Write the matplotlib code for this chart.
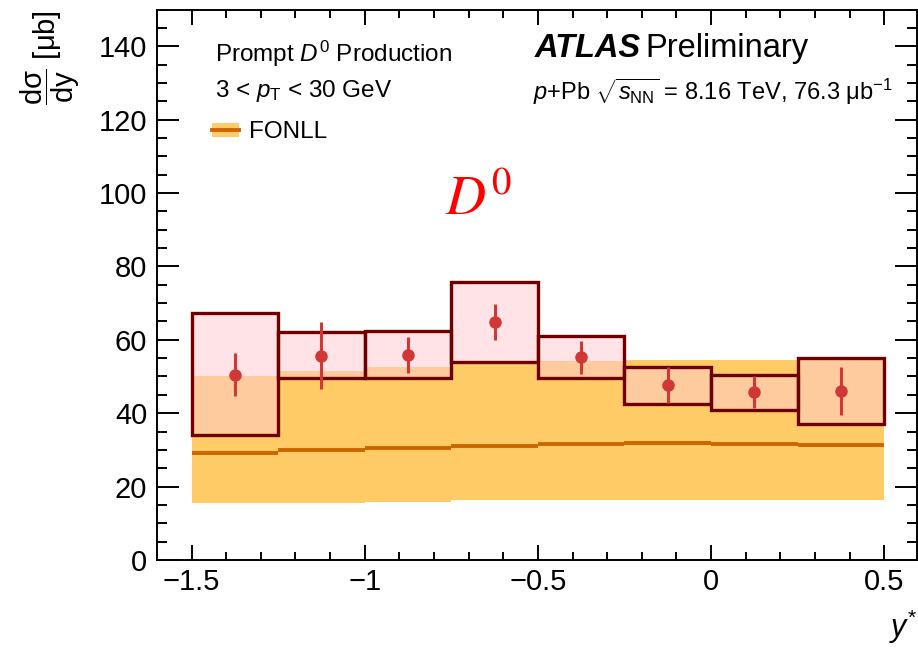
import numpy as np
import matplotlib
matplotlib.use("Agg")
import matplotlib.pyplot as plt
from matplotlib.patches import Patch
from matplotlib.lines import Line2D
from matplotlib.ticker import MultipleLocator

plt.rcParams["font.family"] = ["Liberation Sans", "DejaVu Sans"]
plt.rcParams["mathtext.fontset"] = "custom"
plt.rcParams["mathtext.rm"] = "Liberation Sans"
plt.rcParams["mathtext.it"] = "Liberation Sans:italic"
plt.rcParams["mathtext.bf"] = "Liberation Sans:bold"

# bins in y*
edges = np.array([-1.5, -1.25, -1.0, -0.75, -0.5, -0.25, 0.0, 0.25, 0.5])

# data: dsigma/dy [mub], stat errors, syst box limits
data_val = [50.5, 55.7, 55.9, 64.9, 55.3, 47.6, 45.8, 46.1]
stat_hi = [56.4, 64.9, 60.7, 69.7, 59.8, 52.5, 50.2, 52.5]
stat_lo = [44.8, 46.5, 50.9, 59.9, 50.7, 42.9, 41.3, 39.6]
syst_hi = [67.3, 62.1, 62.3, 75.9, 61.1, 52.7, 50.5, 55.0]
syst_lo = [34.1, 49.7, 49.7, 53.9, 49.5, 42.5, 40.9, 37.1]

# FONLL prediction
fonll_c = [29.1, 29.9, 30.5, 31.1, 31.5, 31.8, 31.7, 31.4]
fonll_hi = [50.2, 51.6, 52.5, 53.8, 54.3, 54.5, 54.5, 55.0]
fonll_lo = [15.5, 15.6, 15.9, 16.2, 16.4, 16.4, 16.4, 16.4]

band_col = "#fecb66"
line_col = "#cc6600"
box_edge = "#6e0000"
box_face = (1.0, 0.80, 0.82, 0.54)
pt_col = "#d03838"

fig = plt.figure(figsize=(9.18, 6.51), dpi=100)
ax = fig.add_axes([0.171, 0.140, 0.828, 0.845])

centers = 0.5 * (edges[:-1] + edges[1:])
widths = np.diff(edges)

ax.stairs(fonll_hi, edges, baseline=fonll_lo, fill=True, color=band_col, lw=0, zorder=1)
ax.hlines(fonll_c, edges[:-1], edges[1:], color=line_col, lw=2.8, zorder=2)

lo = np.array(syst_lo); hi = np.array(syst_hi)
ax.bar(edges[:-1], hi - lo, width=widths, bottom=lo, align="edge",
       facecolor=box_face, edgecolor=box_edge, lw=2.4, zorder=3)

v = np.array(data_val)
ax.errorbar(centers, v, yerr=[v - np.array(stat_lo), np.array(stat_hi) - v],
            fmt="o", color=pt_col, ms=8, elinewidth=2.2, capsize=0, zorder=4)

ax.set_xlim(-1.6, 0.595)
ax.set_ylim(0, 150)
ax.xaxis.set_major_locator(MultipleLocator(0.5))
ax.xaxis.set_minor_locator(MultipleLocator(0.1))
ax.yaxis.set_major_locator(MultipleLocator(20))
ax.yaxis.set_minor_locator(MultipleLocator(5))
ax.set_xticks([-1.5, -1, -0.5, 0, 0.5], ["\u22121.5", "\u22121", "\u22120.5", "0", "0.5"])
ax.tick_params(which="both", direction="in", top=True, right=True, width=1.4, labelsize=21)
ax.tick_params(axis="y", which="major", length=16, pad=7)
ax.tick_params(axis="y", which="minor", length=7)
ax.tick_params(axis="x", which="major", length=11, pad=6)
ax.tick_params(axis="x", which="minor", length=6)
for s in ax.spines.values():
    s.set_linewidth(1.4)

ax.set_ylabel("$\\dfrac{\\mathrm{d\u03c3}}{\\mathrm{dy}}$ [\u03bcb]", loc="top", fontsize=21, labelpad=12)
ax.set_xlabel(r"$y^{*}$", loc="right", fontsize=22, labelpad=8)

tr = ax.transAxes
ax.text(0.076, 0.905, r"Prompt $D^0$ Production", transform=tr, fontsize=17.5, va="baseline")
ax.text(0.076, 0.842, r"3 < $p_{\mathrm{T}}$ < 30 GeV", transform=tr, fontsize=17.5, va="baseline")
ax.text(0.497, 0.915, "ATLAS", transform=tr, fontsize=23.5, va="baseline",
        fontweight="bold", style="italic")
ax.text(0.642, 0.915, "Preliminary", transform=tr, fontsize=23.5, va="baseline")
ax.text(0.495, 0.836, "$p$+Pb $\\sqrt{s_{\\mathrm{NN}}}$ = 8.16 TeV, 76.3 \u03bcb$^{\\mathrm{-1}}$",
        transform=tr, fontsize=17, va="baseline")
ax.text(0.379, 0.627, r"$D^0$", transform=tr, fontsize=40, color="red", va="baseline",
        math_fontfamily="stix")

h = (Patch(facecolor=band_col, edgecolor="none"), Line2D([], [], color=line_col, lw=2.8))
ax.legend([h], ["FONLL"], loc="upper left", bbox_to_anchor=(0.06, 0.815), frameon=False,
          fontsize=17.5, handlelength=1.1, handleheight=0.5, handletextpad=0.4, borderaxespad=0)

fig.savefig("out.png", dpi=100)
